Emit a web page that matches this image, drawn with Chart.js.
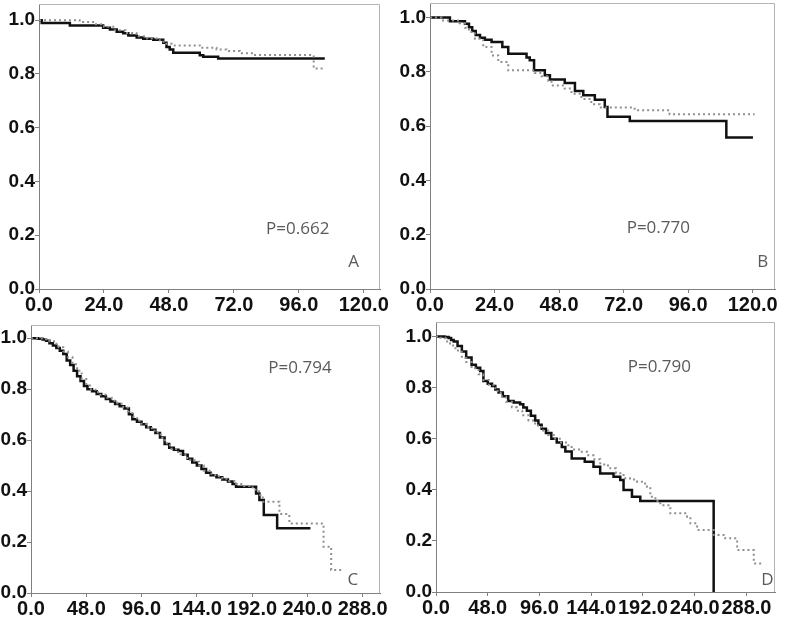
<!DOCTYPE html>
<html>
<head>
<meta charset="utf-8">
<script src="https://cdn.jsdelivr.net/npm/chart.js@4"></script>
<style>
  body { margin: 0; background: #fff; width: 787px; height: 619px; position: relative; overflow: hidden; }
  canvas { position: absolute; }
</style>
</head>
<body>
<canvas id="cA" style="left:0;top:0" width="395" height="320"></canvas>
<canvas id="cB" style="left:395px;top:0" width="392" height="320"></canvas>
<canvas id="cC" style="left:0;top:310px" width="395" height="309"></canvas>
<canvas id="cD" style="left:395px;top:310px" width="392" height="309"></canvas>
<script>
// tick labels
var yTicks = [0, 0.2, 0.4, 0.6, 0.8, 1.0];
var xTicksShort = [0, 24, 48, 72, 96, 120];
var xTicksLong = [0, 48, 96, 144, 192, 240, 288];

// panel A (time, survival) - black = group 1, grey = group 2
var tA1 = [0, 1, 11.4, 23.7, 26.2, 28.7, 31.1, 33, 36.1, 38.5, 42.2, 45.9, 47.1, 48.3, 49.6, 59.4, 60.7, 66.2, 105.6];
var sA1 = [1, 0.989, 0.98, 0.972, 0.965, 0.957, 0.951, 0.943, 0.935, 0.931, 0.927, 0.916, 0.9, 0.891, 0.879, 0.869, 0.864, 0.857, 0.857];
var tA2 = [0, 15, 20, 24, 28, 32, 36, 40, 44, 46, 49, 59.4, 65.6, 69.3, 74.2, 79.1, 101.5, 105];
var sA2 = [1, 0.993, 0.985, 0.975, 0.962, 0.952, 0.94, 0.932, 0.925, 0.912, 0.906, 0.897, 0.891, 0.885, 0.877, 0.87, 0.82, 0.82];

// panel B
var tB1 = [0, 7.4, 13.0, 14.5, 15.7, 17.0, 18.6, 20.4, 22.9, 26.9, 29.1, 35.9, 37.1, 38.7, 42.7, 44.6, 50.1, 53.9, 57.0, 61.3, 65.0, 66.0, 74.3, 110.2, 120.1];
var sB1 = [1, 0.986, 0.977, 0.964, 0.95, 0.935, 0.925, 0.918, 0.909, 0.891, 0.866, 0.852, 0.842, 0.805, 0.787, 0.771, 0.758, 0.729, 0.713, 0.697, 0.67, 0.634, 0.619, 0.558, 0.558];
var tB2 = [0, 4.3, 11, 13, 14.5, 16.7, 19.8, 22.9, 25.4, 29.1, 39.0, 41.5, 44.0, 45.2, 50.1, 52.6, 56.3, 60.0, 63.1, 76.1, 89.1, 120.7];
var sB2 = [1, 0.989, 0.978, 0.962, 0.946, 0.921, 0.891, 0.86, 0.836, 0.805, 0.795, 0.783, 0.766, 0.749, 0.738, 0.719, 0.7, 0.68, 0.668, 0.658, 0.643, 0.643];

// panel C
var tC1 = [0, 6, 10, 13, 16, 19, 22, 25, 28, 31, 34, 37, 40, 43, 46, 49, 53, 57, 61, 65, 69, 73, 77, 81, 85, 88, 92, 96, 100, 104, 108, 112, 116, 120, 124, 128, 132, 136, 140, 144, 148, 152, 156, 161, 166, 171, 175, 178, 195.4, 198.3, 202.1, 213.7, 242.6];
var sC1 = [1, 0.998, 0.995, 0.99, 0.98, 0.972, 0.962, 0.951, 0.938, 0.913, 0.895, 0.872, 0.851, 0.832, 0.813, 0.8, 0.792, 0.781, 0.772, 0.762, 0.752, 0.742, 0.733, 0.724, 0.702, 0.682, 0.672, 0.662, 0.651, 0.641, 0.628, 0.61, 0.585, 0.57, 0.562, 0.557, 0.543, 0.527, 0.512, 0.5, 0.487, 0.472, 0.462, 0.454, 0.446, 0.438, 0.428, 0.417, 0.391, 0.365, 0.306, 0.254, 0.254];
var tC2 = [0, 8, 12, 16, 20, 24, 28, 32, 36, 40, 44, 48, 52, 56, 60, 65, 70, 75, 80, 84, 88, 92, 96, 100, 105, 110, 114, 118, 122, 126, 130, 134, 138, 142, 146, 150, 155, 160, 166, 172, 178, 184, 190, 195, 198, 201.2, 215.7, 224.3, 254, 260.6, 270.5];
var sC2 = [1, 0.999, 0.996, 0.988, 0.978, 0.965, 0.948, 0.925, 0.898, 0.872, 0.84, 0.815, 0.798, 0.788, 0.778, 0.766, 0.755, 0.743, 0.728, 0.712, 0.692, 0.676, 0.664, 0.652, 0.637, 0.622, 0.6, 0.58, 0.565, 0.553, 0.545, 0.53, 0.522, 0.515, 0.5, 0.48, 0.468, 0.458, 0.448, 0.44, 0.428, 0.42, 0.414, 0.405, 0.385, 0.358, 0.31, 0.273, 0.182, 0.09, 0.09];

// panel D
var tD1 = [0, 8, 11.7, 14, 16.4, 20, 24, 28, 33, 37, 41, 44, 48, 52, 55, 58, 62, 67, 72, 78, 81, 84.3, 88, 92, 95, 98, 102, 107, 112, 116.7, 120, 125.9, 133.8, 138, 146.1, 152.3, 164.7, 170.9, 174, 181.8, 189.5, 257.6];
var sD1 = [1, 0.998, 0.994, 0.987, 0.981, 0.963, 0.942, 0.918, 0.89, 0.878, 0.865, 0.826, 0.815, 0.806, 0.793, 0.781, 0.766, 0.748, 0.742, 0.735, 0.722, 0.71, 0.69, 0.671, 0.655, 0.639, 0.622, 0.6, 0.585, 0.568, 0.55, 0.523, 0.523, 0.51, 0.49, 0.464, 0.451, 0.438, 0.399, 0.373, 0.356, 0];
var tD2 = [0, 4, 8.6, 13, 18, 24, 28, 33, 39.5, 44, 49, 55, 60, 65, 70.4, 75, 80, 85.8, 92, 98, 104, 110.5, 116, 122.8, 128, 133.8, 140, 146, 152.4, 156, 161.7, 167, 174, 180, 186.5, 191, 195.7, 198.8, 203.5, 208.1, 217.4, 232.9, 236, 242.2, 257.6, 266.9, 279.4, 294.8, 304];
var sD2 = [1, 0.995, 0.981, 0.965, 0.945, 0.916, 0.9, 0.876, 0.852, 0.83, 0.81, 0.787, 0.765, 0.745, 0.723, 0.71, 0.692, 0.671, 0.652, 0.632, 0.615, 0.6, 0.585, 0.568, 0.558, 0.549, 0.535, 0.52, 0.504, 0.495, 0.484, 0.465, 0.445, 0.44, 0.432, 0.425, 0.412, 0.373, 0.356, 0.34, 0.308, 0.295, 0.269, 0.243, 0.223, 0.21, 0.164, 0.112, 0.112];

var pLabels = ['P=0.662', 'P=0.770', 'P=0.794', 'P=0.790'];
var panelLetters = ['A', 'B', 'C', 'D'];

function pts(t, s) {
  return t.map((v, i) => ({ x: v, y: s[i] }));
}

// draws top/right frame + the P value and panel letter
var framePlugin = {
  id: 'frame',
  beforeDatasetsDraw(chart) {
    const a = chart.chartArea, ctx = chart.ctx;
    ctx.save();
    ctx.strokeStyle = '#b4b4b4';
    ctx.lineWidth = 1;
    ctx.beginPath();
    ctx.moveTo(a.left, a.top + 0.5);
    ctx.lineTo(a.right - 0.5, a.top + 0.5);
    ctx.lineTo(a.right - 0.5, a.bottom);
    ctx.stroke();
    ctx.restore();
  },
  afterDraw(chart) {
    const o = chart.options.plugins.frame, ctx = chart.ctx;
    const xs = chart.scales.x, ys = chart.scales.y;
    ctx.save();
    ctx.fillStyle = '#5a5a5a';
    ctx.font = '17px "Open Sans"';
    ctx.textAlign = 'center';
    ctx.textBaseline = 'middle';
    ctx.fillText(o.p, xs.getPixelForValue(o.pAt[0]), ys.getPixelForValue(o.pAt[1]));
    ctx.fillText(o.letter, xs.getPixelForValue(o.letterAt[0]), ys.getPixelForValue(o.letterAt[1]));
    ctx.restore();
  }
};

function makePanel(id, p) {
  var xFont = { family: 'Liberation Sans', size: 20, weight: 'bold' };
  var yFont = { family: 'Liberation Sans', size: 19, weight: 'bold' };
  new Chart(document.getElementById(id), {
    type: 'line',
    data: {
      datasets: [
        { data: pts(p.t2, p.s2), borderColor: '#8f8f8f', borderWidth: 2, borderDash: [2, 3], stepped: 'before', pointRadius: 0, fill: false },
        { data: pts(p.t1, p.s1), borderColor: '#111', borderWidth: 2.5, stepped: 'before', pointRadius: 0, fill: false }
      ]
    },
    options: {
      responsive: false,
      animation: false,
      devicePixelRatio: 1,
      layout: { padding: { top: p.padTop, right: p.padRight, left: 0, bottom: 0 } },
      plugins: {
        legend: { display: false },
        tooltip: { enabled: false },
        frame: { p: p.pText, pAt: p.pAt, letter: p.letter, letterAt: p.letterAt }
      },
      scales: {
        x: {
          type: 'linear', min: 0, max: p.xMax,
          afterBuildTicks: (ax) => { ax.ticks = p.xTicks.map(v => ({ value: v })); },
          afterFit: (ax) => { ax.height = p.xAxisH; ax.paddingLeft = 0; ax.paddingRight = 0; },
          ticks: { autoSkip: false, maxRotation: 0, minRotation: 0, padding: 0, color: '#111', font: xFont,
                   callback: (v) => Number(v).toFixed(1) },
          grid: { drawOnChartArea: false, drawTicks: true, tickLength: 4, color: '#808080' },
          border: { display: true, color: '#808080' }
        },
        y: {
          type: 'linear', min: 0, max: p.yMax,
          afterBuildTicks: (ax) => { ax.ticks = yTicks.map(v => ({ value: v })); },
          afterFit: (ax) => { ax.width = p.yAxisW; ax.paddingTop = 0; ax.paddingBottom = 0; },
          ticks: { padding: 0, color: '#111', font: yFont, callback: (v) => Number(v).toFixed(1) },
          grid: { drawOnChartArea: false, drawTicks: true, tickLength: 4, color: '#808080' },
          border: { display: true, color: '#808080' }
        }
      }
    },
    plugins: [framePlugin]
  });
}

makePanel('cA', { t1: tA1, s1: sA1, t2: tA2, s2: sA2, xTicks: xTicksShort, xMax: 126, yMax: 1.06,
  yAxisW: 39, padTop: 4, padRight: 15, xAxisH: 31,
  pText: pLabels[0], pAt: [95.6, 0.223], letter: panelLetters[0], letterAt: [116.3, 0.1] });
makePanel('cB', { t1: tB1, s1: sB1, t2: tB2, s2: sB2, xTicks: xTicksShort, xMax: 128.3, yMax: 1.053,
  yAxisW: 35, padTop: 3, padRight: 12, xAxisH: 31,
  pText: pLabels[1], pAt: [84.9, 0.225], letter: panelLetters[1], letterAt: [123.7, 0.1] });
makePanel('cC', { t1: tC1, s1: sC1, t2: tC2, s2: sC2, xTicks: xTicksLong, xMax: 303, yMax: 1.052,
  yAxisW: 31, padTop: 15, padRight: 15, xAxisH: 26,
  pText: pLabels[2], pAt: [233.5, 0.882], letter: panelLetters[2], letterAt: [279.5, 0.051] });
makePanel('cD', { t1: tD1, s1: sD1, t2: tD2, s2: sD2, xTicks: xTicksLong, xMax: 314.5, yMax: 1.057,
  yAxisW: 41, padTop: 12, padRight: 12, xAxisH: 27,
  pText: pLabels[3], pAt: [207.2, 0.881], letter: panelLetters[3], letterAt: [307.5, 0.047] });
</script>
</body>
</html>
